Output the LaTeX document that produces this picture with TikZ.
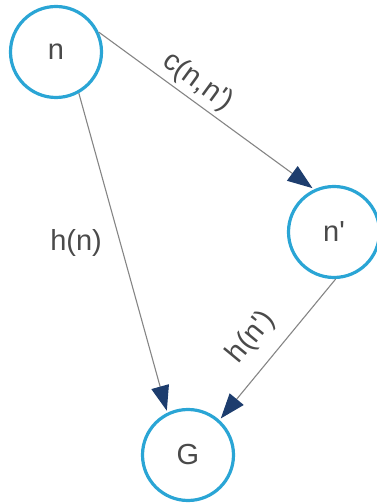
\documentclass[tikz,border=0pt]{standalone}
\usepackage{fontspec}
\setmainfont{Liberation Sans}
\usetikzlibrary{arrows.meta,positioning}
\definecolor{ringblue}{HTML}{2AA5D5}
\definecolor{tipnavy}{HTML}{1D3D6E}
\definecolor{edgegray}{HTML}{858585}
\definecolor{labelgray}{HTML}{4A4A4A}

\begin{document}
\begin{tikzpicture}[x=1pt, y=1pt,
  state/.style={circle, draw=ringblue, line width=3.2pt, fill=white,
    minimum size=91pt, inner sep=0pt, text=labelgray,
    font=\fontsize{29}{32}\selectfont},
  link/.style={draw=edgegray, line width=1.1pt, shorten >=2pt,
    -{Triangle[length=25pt, width=18pt, color=tipnavy]}},
  cost/.style={text=labelgray, font=\fontsize{29}{32}\selectfont, inner sep=0pt}]
  \useasboundingbox (0,0) rectangle (377,503);

  \node[state] (n) at (56,451) {n};
  \node[state] (np) at (334,271) {n\textquotesingle};
  \node[state] (goal) at (188,48) {G};

  \draw[link] (n.25) -- node[cost, sloped, above=4pt, pos=0.41] {c(n,n\textquotesingle)} (np.115);
  \draw[link] (n.-61) -- node[cost, left=18pt, pos=0.47] {h(n)} (goal.116);
  \draw[link] (np.-88) -- node[cost, sloped, above=14pt, pos=0.54] {h(n\textquotesingle)} (goal.48);
\end{tikzpicture}
\end{document}
